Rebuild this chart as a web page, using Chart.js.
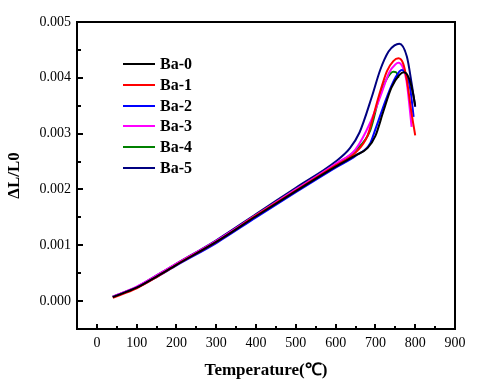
<!DOCTYPE html>
<html>
<head>
<meta charset="utf-8">
<script src="https://cdn.jsdelivr.net/npm/chart.js@4"></script>
<style>
html,body{margin:0;padding:0;background:#fff;}
#wrap{width:490px;height:387px;}
</style>
</head>
<body>
<div id="wrap"><canvas id="c" width="490" height="387"></canvas></div>
<script>
// ---- data ----
const seriesLabels = ["Ba-0","Ba-1","Ba-2","Ba-3","Ba-4","Ba-5"];
const seriesColors = ["#000000","#ff0000","#0000ff","#ff00ff","#008000","#000080"];

const T0 = [40,100,150,200,300,400,500,600,650,680,700,720,740,760,772,785,795,800];
const V0 = [0.00007,0.00024,0.00044,0.00065,0.00106,0.00152,0.00197,0.00241,0.00261,0.00274,0.00296,0.00340,0.00382,0.00405,0.00410,0.00398,0.00370,0.00350];

const T1 = [40,100,150,200,300,400,500,600,650,680,708,729,745,758,770,779,791,800];
const V1 = [0.00006,0.00023,0.00043,0.00065,0.00106,0.00153,0.00198,0.00243,0.00266,0.00296,0.00366,0.00412,0.00430,0.00435,0.00425,0.00396,0.00336,0.00297];

const T2 = [40,100,150,200,300,400,500,600,650,687,700,729,750,766,780,788,796];
const V2 = [0.00007,0.00024,0.00043,0.00064,0.00104,0.00150,0.00195,0.00239,0.00260,0.00283,0.00308,0.00366,0.00400,0.00414,0.00402,0.00378,0.00330];

const T3 = [40,100,150,200,300,400,500,600,650,687,712,735,750,758,768,778,791];
const V3 = [0.00008,0.00026,0.00046,0.00067,0.00108,0.00154,0.00200,0.00246,0.00272,0.00320,0.00366,0.00410,0.00424,0.00427,0.00420,0.00395,0.00312];

const T4 = [40,100,150,200,300,400,500,600,650,687,710,730,745,752,758];
const V4 = [0.00008,0.00025,0.00045,0.00066,0.00107,0.00154,0.00200,0.00245,0.00270,0.00306,0.00366,0.00400,0.00411,0.00410,0.00400];

const T5 = [40,100,150,200,300,400,500,600,636,660,691,712,733,748,760,779,791,800];
const V5 = [0.00008,0.00025,0.00046,0.00067,0.00109,0.00156,0.00203,0.00250,0.00274,0.00302,0.00366,0.00414,0.00447,0.00458,0.00461,0.00438,0.00390,0.00348];

const xMajorTicks = [0,100,200,300,400,500,600,700,800,900];
const xMinorTicks = [50,150,250,350,450,550,650,750,850];
const yMajorTicks = [0,0.001,0.002,0.003,0.004,0.005];
const yMinorTicks = [0.0005,0.0015,0.0025,0.0035,0.0045];

const allT = [T0,T1,T2,T3,T4,T5];
const allV = [V0,V1,V2,V3,V4,V5];

const datasets = seriesLabels.map((lab,i)=>({
  label: lab,
  data: allT[i].map((t,j)=>({x:t,y:allV[i][j]})),
  borderColor: seriesColors[i],
  backgroundColor: seriesColors[i],
  borderWidth: 2,
  pointRadius: 0,
  fill: false,
  cubicInterpolationMode: 'monotone'
}));

const SERIF = "'Liberation Serif','Times New Roman',serif";

const framePlugin = {
  id: 'frame',
  afterDatasetsDraw(chart){
    const {ctx, chartArea:a, scales:{x,y}} = chart;
    ctx.save();
    ctx.strokeStyle = '#000';
    ctx.lineWidth = 2;
    ctx.strokeRect(a.left, a.top, a.right-a.left, a.bottom-a.top);
    ctx.lineWidth = 2;
    ctx.beginPath();
    yMajorTicks.forEach(v=>{const p=Math.round(y.getPixelForValue(v)); ctx.moveTo(a.left,p); ctx.lineTo(a.left+6,p);});
    yMinorTicks.forEach(v=>{const p=Math.round(y.getPixelForValue(v)); ctx.moveTo(a.left,p); ctx.lineTo(a.left+4,p);});
    xMajorTicks.forEach(v=>{const p=Math.round(x.getPixelForValue(v)); ctx.moveTo(p,a.bottom); ctx.lineTo(p,a.bottom-5);});
    xMinorTicks.forEach(v=>{const p=Math.round(x.getPixelForValue(v)); ctx.moveTo(p,a.bottom); ctx.lineTo(p,a.bottom-3);});
    ctx.stroke();
    // legend inside plot
    ctx.font = "bold 16px " + SERIF;
    ctx.textBaseline = 'middle';
    ctx.textAlign = 'left';
    const x0 = 123, x1 = 155, tx = 160, y0 = 64, dy = 20.8;
    chart.data.datasets.forEach((ds,i)=>{
      const yy = Math.round(y0 + i*dy);
      ctx.strokeStyle = ds.borderColor;
      ctx.lineWidth = 2;
      ctx.beginPath(); ctx.moveTo(x0,yy); ctx.lineTo(x1,yy); ctx.stroke();
      ctx.fillStyle = '#000';
      ctx.fillText(ds.label, tx, yy+1);
    });
    ctx.restore();
  }
};

new Chart(document.getElementById('c'), {
  type: 'line',
  data: { datasets },
  plugins: [framePlugin],
  options: {
    responsive: false,
    animation: false,
    devicePixelRatio: 1,
    layout: { padding: { left: 0, right: 35, top: 22, bottom: 0 } },
    plugins: { legend: { display: false }, tooltip: { enabled: false } },
    scales: {
      x: {
        type: 'linear', min: -50, max: 900,
        afterBuildTicks(s){ s.ticks = xMajorTicks.map(v=>({value:v})); },
        afterFit(s){ s.height = 58; },
        grid: { display: false, drawTicks: false },
        border: { display: false },
        ticks: { padding: 6, color: '#000', font: { family: SERIF, size: 14 }, maxRotation: 0, autoSkip: false },
        title: { display: true, text: 'Temperature(℃)', color: '#000', font: { family: SERIF, size: 17, weight: 'bold' }, padding: { top: 2, bottom: 6 } }
      },
      y: {
        type: 'linear', min: -0.0005, max: 0.005,
        afterBuildTicks(s){ s.ticks = yMajorTicks.map(v=>({value:v})); },
        afterFit(s){ s.width = 77; },
        grid: { display: false, drawTicks: false },
        border: { display: false },
        ticks: { padding: 6, color: '#000', font: { family: SERIF, size: 14 }, callback: v => Number(v).toFixed(3), autoSkip: false },
        title: { display: true, text: 'ΔL/L0', color: '#000', font: { family: SERIF, size: 17, weight: 'bold' }, padding: { top: 4, bottom: 4 } }
      }
    }
  }
});
</script>
</body>
</html>
